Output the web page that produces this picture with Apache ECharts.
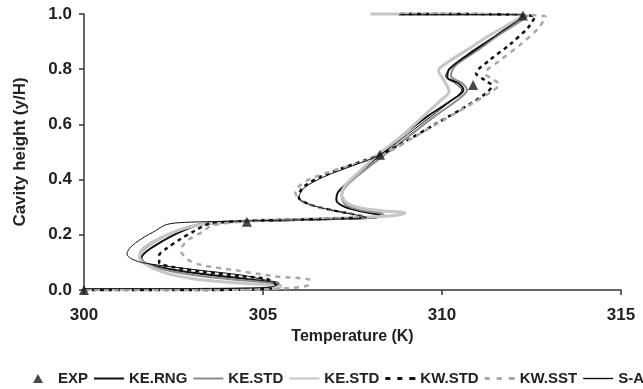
<!DOCTYPE html>
<html>
<head>
<meta charset="utf-8">
<script src="https://cdn.jsdelivr.net/npm/echarts@6/dist/echarts.min.js"></script>
<style>
  html, body { margin: 0; padding: 0; background: #fff; }
  #chart { width: 643px; height: 389px; }
</style>
</head>
<body>
<div id="chart"></div>
<script>
// x ticks / y ticks
const xTicks = [300, 305, 310, 315];
const yTicks = [0, 0.2, 0.4, 0.6, 0.8, 1.0];

// measured points [T (K), y/H]
const expData = [[300.0, 0.0], [304.55, 0.247], [308.27, 0.49], [310.87, 0.743], [312.26, 0.995]];

const keRng = [
  [300, 0.004], [303, 0.004], [305.0, 0.006], [305.4, 0.018], [305.1, 0.03], [304.2, 0.045],
  [303.2, 0.06], [302.3, 0.078], [301.75, 0.095], [301.6, 0.115], [301.75, 0.14], [302.1, 0.17],
  [302.6, 0.205], [303.2, 0.235], [304.0, 0.247], [305.5, 0.252], [307.0, 0.257], [308.1, 0.262],
  [308.3, 0.27], [307.8, 0.283], [307.3, 0.3], [307.05, 0.325], [307.1, 0.355], [307.5, 0.405],
  [308.27, 0.49], [308.9, 0.56], [309.6, 0.63], [310.3, 0.69], [310.6, 0.725], [310.45, 0.75],
  [310.15, 0.77], [310.2, 0.8], [310.8, 0.86], [311.5, 0.92], [312.1, 0.975], [312.3, 0.995],
  [310, 0.998], [308.8, 0.998]
];

const keStd = [
  [300, 0.003], [303, 0.003], [305.2, 0.006], [305.5, 0.016], [305.0, 0.028], [304.0, 0.04],
  [303.0, 0.055], [302.2, 0.075], [301.7, 0.097], [301.55, 0.12], [301.7, 0.15], [302.05, 0.18],
  [302.6, 0.215], [303.3, 0.24], [304.5, 0.25], [306, 0.255], [307.5, 0.26], [308.4, 0.268],
  [308.3, 0.278], [307.7, 0.29], [307.3, 0.31], [307.2, 0.34], [307.35, 0.38], [307.8, 0.43],
  [308.4, 0.49], [309.1, 0.56], [309.8, 0.63], [310.45, 0.69], [310.7, 0.725], [310.55, 0.75],
  [310.25, 0.775], [310.35, 0.81], [310.95, 0.865], [311.6, 0.925], [312.2, 0.975], [312.4, 0.995],
  [310, 0.998], [308.8, 0.998]
];

const keStd2 = [
  [300, 0.002], [303, 0.002], [305.3, 0.005], [305.5, 0.012], [305.0, 0.02], [304.0, 0.028],
  [303.0, 0.042], [302.2, 0.065], [301.7, 0.095], [301.55, 0.12], [301.65, 0.15], [302.0, 0.18],
  [302.5, 0.21], [303.2, 0.235], [304.5, 0.25], [306, 0.256], [307.5, 0.262], [308.7, 0.27],
  [308.97, 0.279], [308.5, 0.285], [307.8, 0.295], [307.35, 0.315], [307.2, 0.344], [307.3, 0.38],
  [307.7, 0.43], [308.2, 0.49], [308.8, 0.55], [309.4, 0.62], [309.9, 0.68], [310.2, 0.72],
  [310.05, 0.76], [309.9, 0.795], [310.1, 0.82], [310.7, 0.87], [311.3, 0.92], [311.9, 0.965],
  [312.3, 0.995], [310, 1.0], [308.0, 1.0]
];

const kwStd = [
  [300, 0.0], [303, 0.0], [305.2, 0.005], [305.35, 0.02], [305.1, 0.04], [304.4, 0.05],
  [303.3, 0.066], [302.5, 0.083], [302.1, 0.1], [302.1, 0.125], [302.3, 0.15], [302.7, 0.185],
  [303.1, 0.215], [303.5, 0.24], [304.5, 0.25], [306, 0.255], [307.3, 0.26], [307.8, 0.265],
  [307.5, 0.275], [306.9, 0.29], [306.3, 0.31], [306.0, 0.335], [306.1, 0.37], [306.6, 0.41],
  [307.4, 0.45], [308.27, 0.49], [309.0, 0.54], [309.8, 0.6], [310.6, 0.66], [311.2, 0.71],
  [311.4, 0.74], [311.2, 0.76], [310.95, 0.785], [311.3, 0.83], [311.9, 0.89], [312.4, 0.95],
  [312.6, 0.99], [310, 1.0], [308.8, 1.0]
];

const kwSst = [
  [300, 0.0], [303, 0.0], [305.5, 0.005], [306.3, 0.02], [306.3, 0.036], [305.3, 0.05],
  [304.2, 0.072], [303.3, 0.09], [302.9, 0.11], [302.7, 0.145], [302.9, 0.18], [303.3, 0.21],
  [303.6, 0.235], [304.5, 0.248], [306, 0.255], [307.3, 0.26], [307.8, 0.266], [307.4, 0.278],
  [306.7, 0.295], [306.1, 0.32], [305.9, 0.355], [306.2, 0.395], [306.9, 0.43], [307.8, 0.465],
  [308.5, 0.5], [309.3, 0.56], [310.1, 0.62], [310.9, 0.68], [311.4, 0.72], [311.6, 0.745],
  [311.4, 0.765], [311.2, 0.785], [311.6, 0.83], [312.2, 0.89], [312.7, 0.95], [312.9, 0.99],
  [310, 1.0], [308.8, 1.0]
];

const saData = [
  [300, 0.005], [303, 0.005], [305.2, 0.01], [305.45, 0.025], [305.1, 0.035], [304.4, 0.054],
  [303.2, 0.072], [302.2, 0.088], [301.6, 0.1], [301.3, 0.115], [301.2, 0.13], [301.3, 0.155],
  [301.6, 0.185], [302.0, 0.215], [302.3, 0.237], [302.8, 0.245], [304.5, 0.25], [306, 0.254],
  [307.3, 0.258], [307.9, 0.263], [307.6, 0.272], [306.9, 0.29], [306.3, 0.31], [306.0, 0.335],
  [306.15, 0.37], [306.7, 0.41], [307.5, 0.45], [308.27, 0.49], [308.9, 0.55], [309.5, 0.61],
  [310.2, 0.68], [310.55, 0.725], [310.35, 0.75], [310.1, 0.775], [310.3, 0.81], [310.9, 0.865],
  [311.6, 0.93], [312.2, 0.985], [312.3, 0.997], [310, 0.998], [308.8, 0.998]
];

const FONT = 'Liberation Sans, Arial, sans-serif';

// legend icons: plain strokes and dashes drawn as filled paths
const ICON_TRI = 'path://M5,0L10,9L0,9z';
const ICON_SOLID = 'path://M0,0h30v2h-30z';
const ICON_THIN = 'path://M0,0h30v1.4h-30z';
const ICON_DASH = 'path://M0,0h5v3h-5z M12,0h5v3h-5z M24,0h6v3h-6z';

const lineSeries = (name, data, color, width, type) => ({
  name,
  type: 'line',
  data,
  symbol: 'none',
  smooth: 0.3,
  clip: false,
  lineStyle: { color, width, type: type || 'solid' },
  itemStyle: { color },
});

const chart = echarts.init(document.getElementById('chart'));
chart.setOption({
  animation: false,
  backgroundColor: '#fff',
  grid: { left: 84, right: 22, top: 14, bottom: 99 },
  legend: {
    left: 33,
    top: 371,
    width: 760,
    padding: 0,
    itemWidth: 30,
    itemHeight: 9,
    itemGap: 6,
    itemStyle: { borderWidth: 0 },
    textStyle: { fontFamily: FONT, fontWeight: 'bold', fontSize: 15, color: '#222' },
    data: [
      { name: 'EXP', icon: ICON_TRI },
      { name: 'KE.RNG', icon: ICON_SOLID },
      { name: 'KE.STD', icon: ICON_SOLID },
      { name: 'KE.STD ', icon: ICON_SOLID },
      { name: 'KW.STD', icon: ICON_DASH },
      { name: 'KW.SST', icon: ICON_DASH },
      { name: 'S-A', icon: ICON_THIN },
    ],
    formatter: (n) => n.trim(),
  },
  xAxis: {
    type: 'value',
    min: xTicks[0],
    max: xTicks[xTicks.length - 1],
    interval: 5,
    name: 'Temperature (K)',
    nameLocation: 'middle',
    nameGap: 37,
    nameTextStyle: { fontFamily: FONT, fontWeight: 'bold', fontSize: 16, color: '#222' },
    axisLine: { lineStyle: { color: '#333', width: 1.5 } },
    axisTick: { show: true, length: 5, lineStyle: { color: '#333', width: 1.5 } },
    axisLabel: { margin: 17, fontFamily: FONT, fontWeight: 'bold', fontSize: 17, color: '#222' },
    splitLine: { show: false },
  },
  yAxis: {
    type: 'value',
    min: yTicks[0],
    max: yTicks[yTicks.length - 1],
    interval: 0.2,
    name: 'Cavity height (y/H)',
    nameLocation: 'middle',
    nameGap: 55,
    nameTextStyle: { fontFamily: FONT, fontWeight: 'bold', fontSize: 17, color: '#222' },
    axisLine: { show: true, lineStyle: { color: '#333', width: 1.5 } },
    axisTick: { show: true, length: 5, lineStyle: { color: '#333', width: 1.5 } },
    axisLabel: {
      margin: 12, fontFamily: FONT, fontWeight: 'bold', fontSize: 17, color: '#222',
      formatter: (v) => v.toFixed(1),
    },
    splitLine: { show: false },
  },
  series: [
    {
      name: 'EXP',
      type: 'scatter',
      data: expData,
      symbol: 'triangle',
      symbolSize: 10,
      clip: false,
      z: 10,
      itemStyle: { color: '#1a1a1a' },
    },
    lineSeries('KE.RNG', keRng, '#111', 2),
    lineSeries('KE.STD', keStd, '#8a8a8a', 2),
    lineSeries('KE.STD ', keStd2, '#c6c6c6', 3),
    lineSeries('KW.STD', kwStd, '#111', 2.5, [4, 4]),
    lineSeries('KW.SST', kwSst, '#a8a8a8', 2.5, [5, 5]),
    lineSeries('S-A', saData, '#111', 1),
  ],
});
</script>
</body>
</html>
